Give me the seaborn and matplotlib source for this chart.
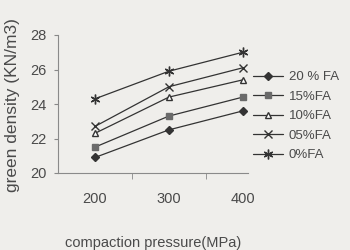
import numpy as np
import pandas as pd
import matplotlib
matplotlib.use("Agg")
import matplotlib.pyplot as plt
import seaborn as sns

# data
pressure = ["200", "300", "400"]
fa_20 = [20.9, 22.5, 23.6]
fa_15 = [21.5, 23.3, 24.4]
fa_10 = [22.3, 24.4, 25.4]
fa_05 = [22.7, 25.0, 26.1]
fa_00 = [24.3, 25.9, 27.0]
series_names = ["20 % FA", "15%FA", "10%FA", "05%FA", "0%FA"]

sns.set_style("white")
plt.rcParams['font.family'] = ['Liberation Sans', 'DejaVu Sans']

bg = "#efeeeb"
text_col = "#4a4a4a"
line_col = "#333333"

fig = plt.figure(figsize=(3.5, 2.5), dpi=100, facecolor=bg)
ax = fig.add_axes([58 / 350, 1 - 173 / 250, 190 / 350, 138 / 250])
ax.set_facecolor(bg)

pos = np.arange(len(pressure))
styles = [
    (fa_20, "D", line_col, line_col, 4),
    (fa_15, "s", "#6a6a6a", "#6a6a6a", 5),
    (fa_10, "^", "white", line_col, 5),
    (fa_05, "x", line_col, line_col, 6),
    (fa_00, (6, 2, 0), line_col, line_col, 7),
]
for name, (vals, mk, fc, ec, ms) in zip(series_names, styles):
    sns.lineplot(x=pos, y=vals, ax=ax, color=line_col, lw=0.9,
                 marker=mk, markersize=ms, markerfacecolor=fc,
                 markeredgecolor=ec, markeredgewidth=1.0, label=name)

ax.set_xlim(-0.5, 2.07)
ax.set_ylim(20, 28)
ax.set_yticks([20, 22, 24, 26, 28])
ax.set_xticks(pos)
ax.set_xticklabels(pressure)
ax.set_xticks([0.5, 1.5], minor=True)
ax.tick_params(axis="x", which="major", length=0, pad=14, labelsize=10.5, colors=text_col)
ax.tick_params(axis="x", which="minor", length=4, direction="out", color="#888888", bottom=True)
ax.tick_params(axis="y", length=3, direction="out", pad=5, labelsize=10.5,
               colors=text_col, left=True, color="#888888")
for s in ["top", "right"]:
    ax.spines[s].set_visible(False)
for s in ["left", "bottom"]:
    ax.spines[s].set_color("#8a8a8a")
    ax.spines[s].set_linewidth(0.8)

ax.set_xlabel("compaction pressure(MPa)", fontsize=10.5, color=text_col)
ax.xaxis.set_label_coords(0.5, -0.455)
ax.set_ylabel("green density (KN/m3)", fontsize=12.5, color=text_col)
ax.yaxis.set_label_coords(-0.2, 0.49)

leg = ax.legend(loc="upper left", bbox_to_anchor=(253 / 350, 1 - 71 / 250),
                bbox_transform=fig.transFigure, frameon=False, fontsize=9.5,
                handlelength=2.3, handletextpad=0.4, labelspacing=0.55,
                borderpad=0, borderaxespad=0)
for t in leg.get_texts():
    t.set_color(text_col)

fig.savefig("out.png", dpi=100, facecolor=bg)
